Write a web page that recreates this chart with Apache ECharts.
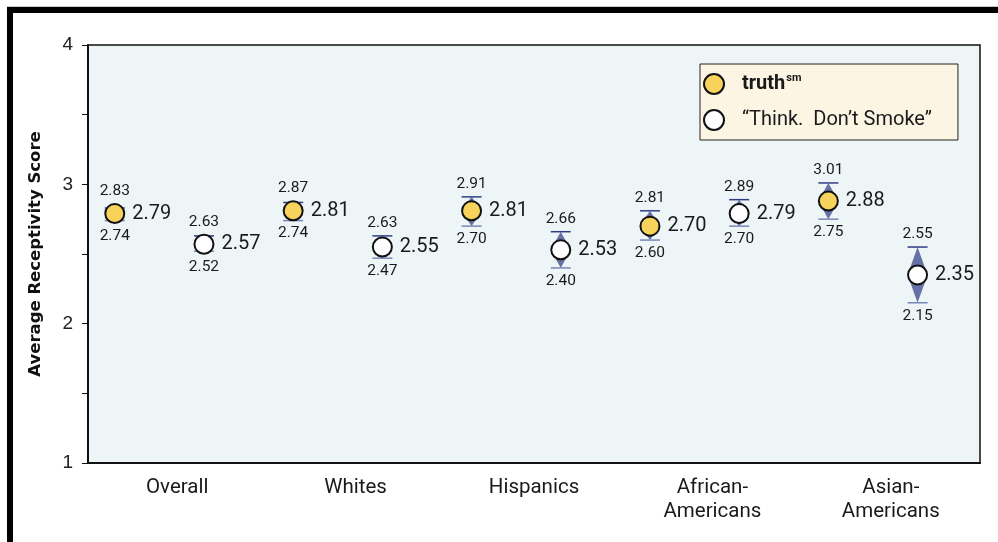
<!DOCTYPE html>
<html>
<head>
<meta charset="utf-8">
<title>Average Receptivity Score</title>
<script src="https://cdn.jsdelivr.net/npm/echarts@6/dist/echarts.min.js"></script>
<style>
  html, body { margin: 0; padding: 0; background: #fff; }
  #main { width: 998px; height: 542px; }
</style>
</head>
<body>
<div id="main"></div>
<script>
// groups along the x axis
const categories = ['Overall', 'Whites', 'Hispanics', 'African-\nAmericans', 'Asian-\nAmericans'];
const yTicks = [1, 2, 3, 4];

// truth campaign: mean with lower / upper bounds
const truthMean = [2.79, 2.81, 2.81, 2.70, 2.88];
const truthLow  = [2.74, 2.74, 2.70, 2.60, 2.75];
const truthHigh = [2.83, 2.87, 2.91, 2.81, 3.01];

// "Think. Don't Smoke" campaign
const thinkMean = [2.57, 2.55, 2.53, 2.79, 2.35];
const thinkLow  = [2.52, 2.47, 2.40, 2.70, 2.15];
const thinkHigh = [2.63, 2.63, 2.66, 2.89, 2.55];

const TRUTH_OFF = 0.15, THINK_OFF = 0.65;   // position inside each group
const R = 9.5;                              // marker radius

function pts(off, mean, low, high) {
    return mean.map((m, i) => [i + off, m, low[i], high[i]]);
}

function errorBar(params, api) {
    const x = api.value(0);
    const c = api.coord([x, api.value(1)]);
    const lo = api.coord([x, api.value(2)]);
    const hi = api.coord([x, api.value(3)]);
    const cx = c[0], cy = c[1];
    const w = 10, cap = 10;
    const f = v => v.toFixed(2);
    const small = { fontFamily: 'Roboto', fontSize: 15.5, fill: '#1a1a1a', align: 'center', verticalAlign: 'middle' };
    return {
        type: 'group',
        children: [
            { type: 'polygon', shape: { points: [[cx, hi[1]], [cx - w, cy], [cx + w, cy]] },
              style: { fill: '#6671a6' } },
            { type: 'polygon', shape: { points: [[cx, lo[1]], [cx - w, cy], [cx + w, cy]] },
              style: { fill: '#6671a6' } },
            { type: 'line', shape: { x1: cx - cap, y1: hi[1], x2: cx + cap, y2: hi[1] },
              style: { stroke: '#2f3d85', lineWidth: 1.5 } },
            { type: 'line', shape: { x1: cx - cap, y1: lo[1], x2: cx + cap, y2: lo[1] },
              style: { stroke: '#7886b8', lineWidth: 1.5 } },
            { type: 'text', x: cx, y: Math.min(hi[1], cy - R) - 13,
              style: Object.assign({ text: f(api.value(3)) }, small) },
            { type: 'text', x: cx, y: Math.max(lo[1], cy + R) + 13,
              style: Object.assign({ text: f(api.value(2)) }, small) }
        ]
    };
}

const meanLabel = {
    show: true, position: 'right', distance: 7,
    fontFamily: 'Roboto', fontSize: 20, color: '#1a1a1a',
    formatter: p => p.value[1].toFixed(2)
};

const chart = echarts.init(document.getElementById('main'));
chart.setOption({
    animation: false,
    backgroundColor: '#fff',
    graphic: [
        { type: 'rect', shape: { x: 7, y: 6, width: 991, height: 1 }, style: { fill: '#c8c8c8' } },
        { type: 'rect', shape: { x: 7, y: 7, width: 991, height: 6 }, style: { fill: '#000' } },
        { type: 'rect', shape: { x: 7, y: 7, width: 6, height: 535 }, style: { fill: '#000' } }
    ],
    grid: {
        left: 88, top: 45, right: 18, bottom: 79,
        show: true, backgroundColor: '#eef5f7', borderColor: '#111', borderWidth: 1.5
    },
    legend: {
        orient: 'vertical', left: 700, top: 64,
        padding: [9, 26, 9, 3], itemGap: 14,
        itemWidth: 20, itemHeight: 20, icon: 'circle',
        backgroundColor: '#fdf5e4', borderColor: '#222', borderWidth: 1,
        data: ['truth', 'think'],
        formatter: n => n === 'truth' ? '{b|truth}{s|sm}' : '“Think.  Don’t Smoke”',
        textStyle: {
            fontFamily: 'Roboto', fontSize: 20, color: '#1a1a1a', padding: [0, 0, 0, 13],
            rich: {
                b: { fontFamily: 'Roboto', fontSize: 20, fontWeight: 'bold', color: '#1a1a1a' },
                s: { fontFamily: 'Roboto', fontSize: 11, fontWeight: 'bold', color: '#1a1a1a', padding: [0, 0, 11, 1] }
            }
        }
    },
    xAxis: [
        { type: 'value', min: 0, max: categories.length, show: false },
        {
            type: 'category', data: categories, position: 'bottom',
            axisLine: { lineStyle: { color: '#111', width: 2 } },
            axisTick: { length: 5, lineStyle: { color: '#111' } },
            axisLabel: { fontFamily: 'Roboto', fontSize: 20.5, color: '#1a1a1a', lineHeight: 24, margin: 13 }
        }
    ],
    yAxis: {
        type: 'value', min: yTicks[0], max: yTicks[yTicks.length - 1], interval: 1,
        name: 'Average Receptivity Score', nameLocation: 'middle', nameGap: 44,
        nameTextStyle: { fontFamily: 'DejaVu Sans', fontWeight: 'bold', fontSize: 16.5, color: '#111' },
        axisLine: { show: true, lineStyle: { color: '#111', width: 2 } },
        axisTick: { show: true, length: 6, lineStyle: { color: '#111' } },
        minorTick: { show: true, splitNumber: 2, length: 6, lineStyle: { color: '#111' } },
        splitLine: { show: false },
        axisLabel: { fontFamily: 'Liberation Sans', fontSize: 19, color: '#222', margin: 15 }
    },
    series: [
        { type: 'custom', name: 'truthBars', renderItem: errorBar, z: 1,
          data: pts(TRUTH_OFF, truthMean, truthLow, truthHigh), encode: { x: 0, y: 1 } },
        { type: 'custom', name: 'thinkBars', renderItem: errorBar, z: 1,
          data: pts(THINK_OFF, thinkMean, thinkLow, thinkHigh), encode: { x: 0, y: 1 } },
        { type: 'scatter', name: 'truth', z: 3, symbol: 'circle', symbolSize: R * 2,
          itemStyle: { color: '#f8d35c', borderColor: '#111', borderWidth: 2, opacity: 1 },
          label: meanLabel,
          data: truthMean.map((m, i) => [i + TRUTH_OFF, m]) },
        { type: 'scatter', name: 'think', z: 3, symbol: 'circle', symbolSize: R * 2,
          itemStyle: { color: '#fff', borderColor: '#111', borderWidth: 2, opacity: 1 },
          label: meanLabel,
          data: thinkMean.map((m, i) => [i + THINK_OFF, m]) }
    ]
});
</script>
</body>
</html>
